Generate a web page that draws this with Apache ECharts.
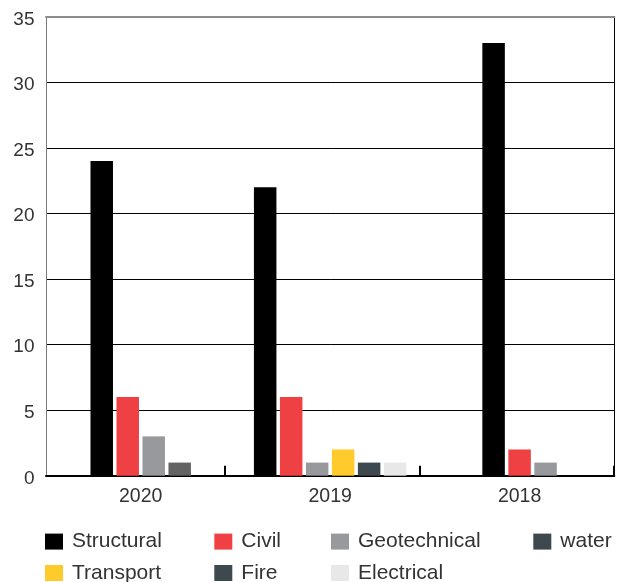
<!DOCTYPE html>
<html>
<head>
<meta charset="utf-8">
<script src="https://cdn.jsdelivr.net/npm/echarts@6/dist/echarts.min.js"></script>
<style>
  html, body { margin: 0; padding: 0; background: #fff; }
  #chart { width: 623px; height: 582px; }
</style>
</head>
<body>
<div id="chart"></div>
<script>
// Projects by discipline, per year
const years = ['2020', '2019', '2018'];
const structural   = [24, 22, 33];
const civil        = [6, 6, 2];
const geotechnical = [3, 1, 1];
const water        = [1, null, null];
const transport    = [null, 2, null];
const fire         = [null, 1, null];
const electrical   = [null, 1, null];

const disciplines = [
  { name: 'Structural',   values: structural },
  { name: 'Civil',        values: civil },
  { name: 'Geotechnical', values: geotechnical },
  { name: 'water',        values: water },
  { name: 'Transport',    values: transport },
  { name: 'Fire',         values: fire },
  { name: 'Electrical',   values: electrical }
];

const barColors = {
  Structural: '#000000', Civil: '#ef4144', Geotechnical: '#98999c',
  water: '#646464', Transport: '#ffca2c', Fire: '#3e494f', Electrical: '#e8e8e8'
};
const legendColors = Object.assign({}, barColors, { water: '#3e494f' });

const FONT = 'Liberation Sans';
const TEXT = '#333333';

// Plot frame
const PLOT = { left: 46, right: 8.7, top: 16.7, bottom: 106.3 };

// Each year gets its own hidden band axis so only the disciplines present
// in that year are grouped and centred in its band.
const firstBarAxis = 1;
const series = [];
years.forEach((year, i) => {
  disciplines.forEach(d => {
    if (d.values[i] == null) return;
    series.push({
      type: 'bar',
      name: d.name,
      xAxisIndex: firstBarAxis + i,
      yAxisIndex: 0,
      barWidth: 22.5,
      barGap: '15.5%',
      itemStyle: { color: barColors[d.name] },
      data: years.map((_, j) => (j === i ? d.values[i] : null))
    });
  });
});

const hiddenBandAxis = () => ({
  type: 'category', gridIndex: 0, position: 'bottom', data: years, show: false
});

// One legend column per pair of disciplines
const legendCol = (names, left) => ({
  data: names.map(n => ({ name: n, itemStyle: { color: legendColors[n] } })),
  orient: 'vertical',
  left: left,
  top: 531.1,
  height: 120,
  padding: 0,
  icon: 'rect',
  itemWidth: 18,
  itemHeight: 16,
  itemGap: 10.4,
  selectedMode: false,
  textStyle: { fontFamily: FONT, fontSize: 21, color: TEXT, padding: [0, 0, 0, 4] }
});

const option = {
  animation: false,
  backgroundColor: '#ffffff',
  grid: [
    Object.assign({}, PLOT),
    // separator ticks between the year groups
    { left: 30.7, right: 9.4, top: PLOT.top, bottom: PLOT.bottom }
  ],
  xAxis: [
    {
      type: 'category', gridIndex: 0, position: 'bottom', data: years,
      axisLine: { show: true, lineStyle: { color: '#000', width: 2 } },
      axisTick: { show: false },
      axisLabel: { fontFamily: FONT, fontSize: 19.5, color: TEXT, margin: 11 },
      splitLine: { show: false }
    },
    hiddenBandAxis(), hiddenBandAxis(), hiddenBandAxis(),
    {
      type: 'category', gridIndex: 0, position: 'top', data: years,
      axisLine: { show: true, lineStyle: { color: '#8c8c8c', width: 2 } },
      axisTick: { show: false }, axisLabel: { show: false }, splitLine: { show: false }
    },
    {
      type: 'category', gridIndex: 1, position: 'bottom', data: years,
      axisLine: { show: false },
      axisTick: {
        show: true, inside: true, length: 10,
        interval: (idx) => idx > 0,
        lineStyle: { color: '#000', width: 2 }
      },
      axisLabel: { show: false }, splitLine: { show: false }
    }
  ],
  yAxis: [
    {
      type: 'value', gridIndex: 0, position: 'left', min: 0, max: 35, interval: 5,
      axisLine: { show: true, lineStyle: { color: '#7a7a7a', width: 1 } },
      axisTick: { show: false },
      // labels sit slightly below their grid line
      axisLabel: {
        fontFamily: FONT, fontSize: 19, color: TEXT, margin: 11.5,
        verticalAlign: 'top', lineHeight: 5.4
      },
      splitLine: { show: true, showMinLine: false, showMaxLine: false, lineStyle: { color: '#000', width: 1 } }
    },
    {
      type: 'value', gridIndex: 0, position: 'right', min: 0, max: 35, interval: 5,
      axisLine: { show: true, lineStyle: { color: '#000', width: 1 } },
      axisTick: { show: false }, axisLabel: { show: false }, splitLine: { show: false }
    },
    {
      type: 'value', gridIndex: 1, min: 0, max: 35, show: false
    }
  ],
  legend: [
    legendCol(['Structural', 'Transport'], 45),
    legendCol(['Civil', 'Fire'], 214.3),
    legendCol(['Geotechnical', 'Electrical'], 331),
    legendCol(['water'], 533.3)
  ],
  series: series
};

const chart = echarts.init(document.getElementById('chart'), null, { renderer: 'canvas' });
chart.setOption(option);
</script>
</body>
</html>
